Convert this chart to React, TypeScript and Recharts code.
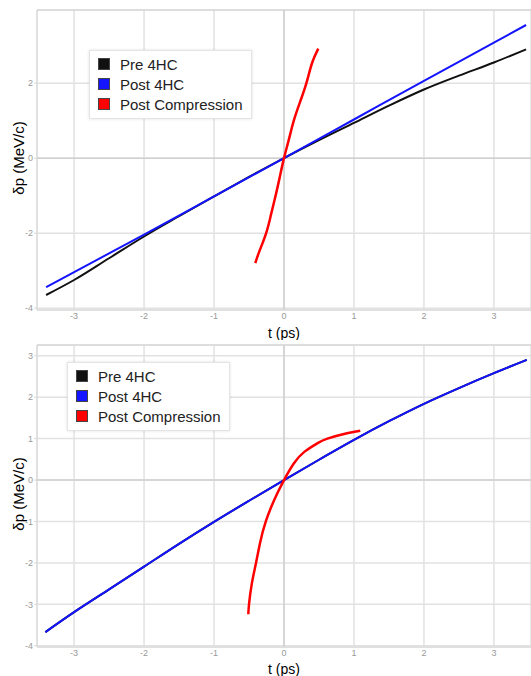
import React from 'react'
import { LineChart, Line, XAxis, YAxis, CartesianGrid, ReferenceLine, Legend } from 'recharts'

// time axis ticks (ps)
const tTicks = [-3, -2, -1, 0, 1, 2, 3]
const topPTicks = [-4, -2, 0, 2]
const bottomPTicks = [-4, -3, -2, -1, 0, 1, 2, 3]
const seriesOrder = ['Pre 4HC', 'Post 4HC', 'Post Compression']

// top panel
const topPreT = [-3.4, -3, -2.5, -2, -1.5, -1, -0.5, 0, 0.5, 1, 1.5, 2, 2.5, 3, 3.46]
const topPreP = [-3.65, -3.25, -2.67, -2.09, -1.55, -1.02, -0.5, 0, 0.48, 0.94, 1.4, 1.83, 2.2, 2.55, 2.9]
const topPostT = [-3.4, -2, -1, 0, 1, 2, 3, 3.46]
const topPostP = [-3.44, -2.04, -1.02, 0, 1.03, 2.06, 3.08, 3.55]
const topCompT = [-0.41, -0.355, -0.255, -0.185, -0.12, -0.06, 0, 0.07, 0.14, 0.23, 0.32, 0.4, 0.49]
const topCompP = [-2.8, -2.5, -2.0, -1.5, -1.0, -0.5, 0, 0.5, 1.0, 1.5, 2.0, 2.53, 2.92]

// bottom panel
const botPreT = [-3.41, -3, -2.5, -2, -1.5, -1, -0.5, 0, 0.5, 1, 1.5, 2, 2.5, 3, 3.47]
const botPreP = [-3.67, -3.19, -2.64, -2.09, -1.54, -1.01, -0.5, 0, 0.49, 0.97, 1.42, 1.84, 2.22, 2.58, 2.9]
const botPostT = [-3.41, -3, -2.5, -2, -1.5, -1, -0.5, 0, 0.5, 1, 1.5, 2, 2.5, 3, 3.47]
const botPostP = [-3.67, -3.19, -2.64, -2.09, -1.54, -1.01, -0.5, 0, 0.49, 0.97, 1.42, 1.84, 2.22, 2.58, 2.9]
const botCompT = [-0.51, -0.5, -0.46, -0.4, -0.34, -0.26, -0.14, 0, 0.14, 0.29, 0.48, 0.62, 0.9, 1.09]
const botCompP = [-3.24, -3.0, -2.5, -2.0, -1.5, -1.0, -0.48, 0, 0.4, 0.68, 0.89, 1.0, 1.13, 1.19]

const pts = (t: number[], p: number[]) => t.map((v, i) => ({ t: v, p: p[i] }))

const FONT = '"Liberation Sans", Arial, sans-serif'

const LegendBox = (props: any) => {
  const items = [...(props.payload || [])].sort(
    (a: any, b: any) => seriesOrder.indexOf(a.value) - seriesOrder.indexOf(b.value)
  )
  return (
    <div style={{
      background: '#fff', border: '1px solid #e4e4e4', boxShadow: '0 0 3px rgba(0,0,0,0.12)',
      padding: '3px 8px 4px 8px', fontFamily: FONT, fontSize: 15, color: '#222'
    }}>
      {items.map((it: any) => (
        <div key={it.value} style={{ display: 'flex', alignItems: 'center', height: 20, whiteSpace: 'nowrap' }}>
          <span style={{ width: 10, height: 10, background: it.color, border: '1px solid #444', marginRight: 10, display: 'inline-block' }} />
          <span>{it.value}</span>
        </div>
      ))}
    </div>
  )
}

const YLabel = (props: any) => {
  const vb = props.viewBox || {}
  const cy = vb.y + vb.height / 2 - 2
  return (
    <text x={18} y={cy} transform={`rotate(-90, 18, ${cy})`} textAnchor="middle" dominantBaseline="central"
      fontSize={15} fontFamily={FONT} fill="#000">
      δp (MeV/c)
    </text>
  )
}

type PanelProps = {
  height: number
  top: number
  xHeight: number
  yDomain: [number, number]
  yTicks: number[]
  pre: { t: number; p: number }[]
  post: { t: number; p: number }[]
  comp: { t: number; p: number }[]
  legendPos: { left: number; top: number }
}

const Panel = ({ height, top, xHeight, yDomain, yTicks, pre, post, comp, legendPos }: PanelProps) => (
  <LineChart width={531} height={height} margin={{ top, right: 0, bottom: 0, left: 0 }}>
    <CartesianGrid stroke="#e2e2e2" strokeWidth={1.5} />
    <XAxis
      type="number" dataKey="t" domain={[-3.53, 3.53]} ticks={tTicks} allowDataOverflow
      height={xHeight} tickLine={false} tickSize={0} tickMargin={3} stroke="#d8d8d8"
      tick={{ fontSize: 9, fill: '#999', fontFamily: FONT }}
      label={{ value: 't (ps)', position: 'insideBottom', offset: 2, fill: '#000', fontSize: 14, fontFamily: FONT }}
    />
    <YAxis
      type="number" dataKey="p" domain={yDomain} ticks={yTicks} allowDataOverflow
      width={37} tickSize={3} tickMargin={1} stroke="#d8d8d8"
      tick={{ fontSize: 9, fill: '#999', fontFamily: FONT }}
      label={<YLabel />}
    />
    <ReferenceLine y={yDomain[1]} stroke="#d8d8d8" strokeWidth={1.5} />
    <ReferenceLine x={0} stroke="#cfcfcf" strokeWidth={1.5} />
    <ReferenceLine y={0} stroke="#cfcfcf" strokeWidth={1.5} />
    <Legend
      layout="vertical" align="center" verticalAlign="middle"
      wrapperStyle={{ left: legendPos.left, top: legendPos.top, width: 'auto', height: 'auto' }}
      content={<LegendBox />}
    />
    <Line data={pre} dataKey="p" name="Pre 4HC" stroke="#111" strokeWidth={2} dot={false} type="monotone" isAnimationActive={false} />
    <Line data={post} dataKey="p" name="Post 4HC" stroke="#1414ff" strokeWidth={2} dot={false} type="monotone" isAnimationActive={false} />
    <Line data={comp} dataKey="p" name="Post Compression" stroke="#ff0000" strokeWidth={2.5} dot={false} type="natural" isAnimationActive={false} />
  </LineChart>
)

export default function App() {
  return (
    <div style={{ position: 'absolute', left: 0, top: 0, width: 531, height: 676, background: '#fff' }}>
      <Panel
        height={340} top={10} xHeight={30} yDomain={[-4.05, 3.95]} yTicks={topPTicks}
        pre={pts(topPreT, topPreP)} post={pts(topPostT, topPostP)} comp={pts(topCompT, topCompP)}
        legendPos={{ left: 89, top: 50 }}
      />
      <Panel
        height={336} top={5} xHeight={29} yDomain={[-4.03, 3.26]} yTicks={bottomPTicks}
        pre={pts(botPreT, botPreP)} post={pts(botPostT, botPostP)} comp={pts(botCompT, botCompP)}
        legendPos={{ left: 67, top: 22 }}
      />
    </div>
  )
}
